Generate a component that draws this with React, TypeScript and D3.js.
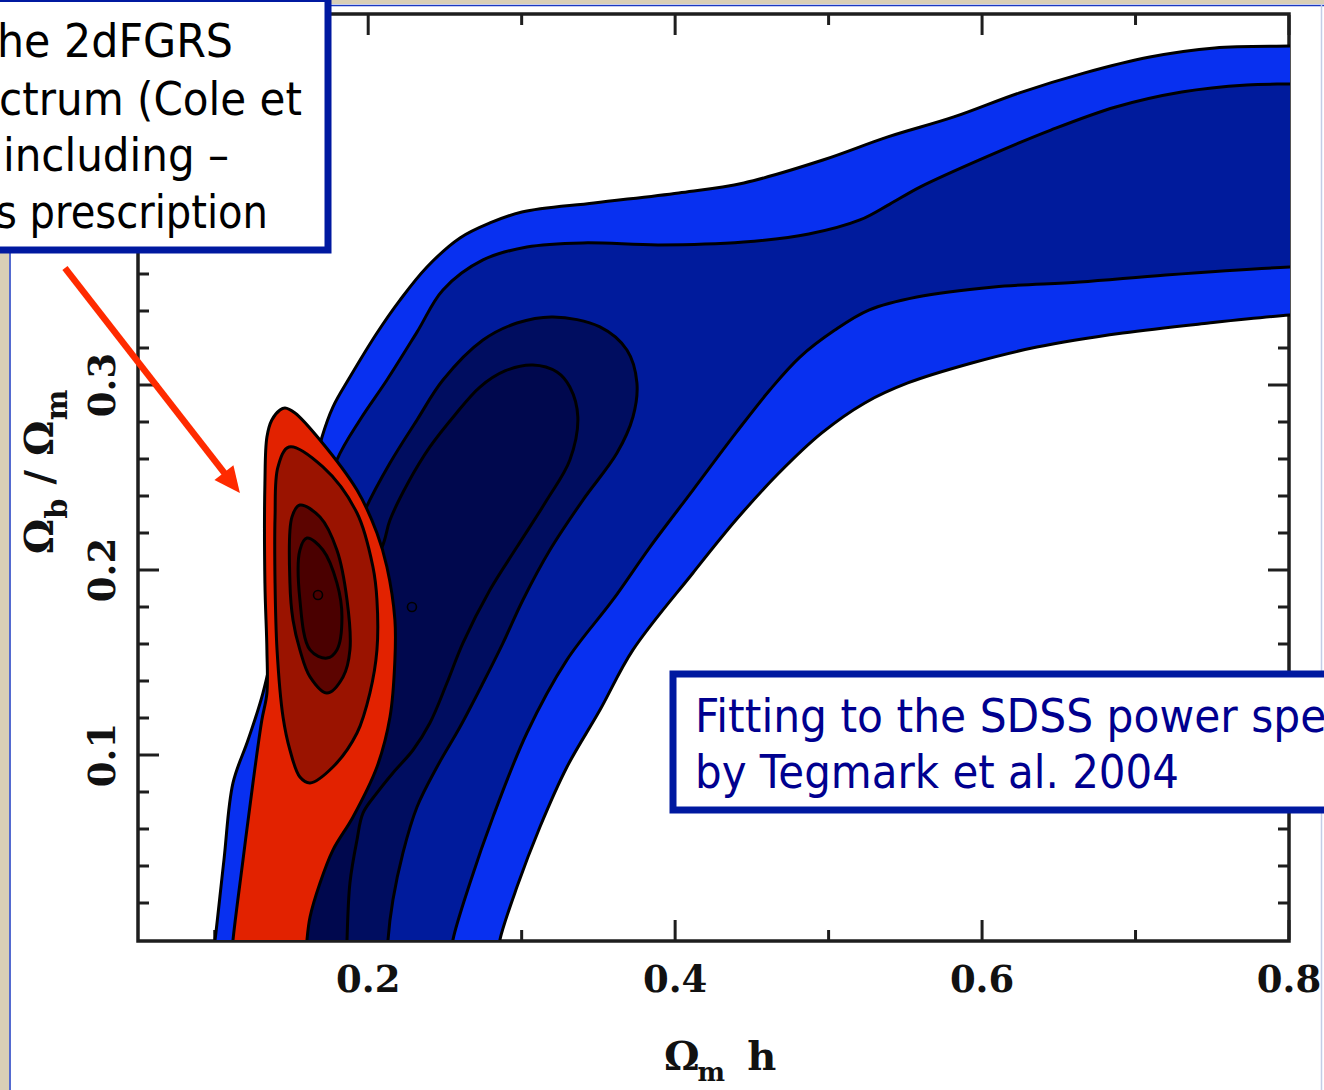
import React from "react";
import * as d3 from "d3";

type P = [number, number];

const W = 1324;
const H = 1090;

// Axes
const xDomain: [number, number] = [0.05, 0.8];
const yDomain: [number, number] = [0, 0.5];
const xMajorTicks = [0.2, 0.4, 0.6, 0.8];
const xMinorTicks = [0.1, 0.3, 0.5, 0.7];
const xTickLabels = ["0.2", "0.4", "0.6", "0.8"];
const yMajorTicks = [0.1, 0.2, 0.3, 0.4];
const yMinorTicks = [0.02, 0.04, 0.06, 0.08, 0.12, 0.14, 0.16, 0.18, 0.22, 0.24, 0.26, 0.28, 0.32, 0.34, 0.36, 0.38, 0.42, 0.44, 0.46, 0.48];
const yTickLabels = ["0.1", "0.2", "0.3", "0.4"];

// SDSS (Tegmark et al. 2004) likelihood contours, outermost first
const sdss1Upper: P[] = [
  [0.0985, -0.01], [0.1002, 0.0], [0.106, 0.0432], [0.1119, 0.0849], [0.1217, 0.1081], [0.1314, 0.1335],
  [0.1503, 0.2038], [0.1699, 0.2719], [0.177, 0.2881], [0.1881, 0.3043], [0.2057, 0.3281], [0.2207, 0.3459],
  [0.2383, 0.3638], [0.2598, 0.3795], [0.2793, 0.3876], [0.3002, 0.3935], [0.3471, 0.3984],
  [0.4024, 0.4038], [0.4448, 0.4092], [0.4963, 0.4216], [0.5386, 0.4341], [0.5816, 0.4449], [0.6239, 0.4578],
  [0.6663, 0.4686], [0.7093, 0.4773], [0.7516, 0.4822], [0.8005, 0.4832], [0.83, 0.4835],
];
const sdss1Lower: P[] = [
  [0.83, 0.339], [0.8005, 0.3378], [0.7477, 0.3335], [0.6917, 0.3281], [0.6357, 0.3205], [0.5933, 0.3119],
  [0.5516, 0.3011], [0.5236, 0.2903], [0.4956, 0.2741], [0.4676, 0.2524], [0.4396, 0.227], [0.4116, 0.1984],
  [0.3725, 0.1568], [0.351, 0.1243], [0.3295, 0.0935], [0.3119, 0.0611], [0.2969, 0.0286],
  [0.2858, 0.0], [0.2845, -0.01],
];
const sdss2Upper: P[] = [
  [0.1425, -0.01], [0.1438, 0.0486], [0.1477, 0.1027], [0.1542, 0.1568], [0.1634, 0.2162], [0.1796, 0.2595],
  [0.1946, 0.2811], [0.2122, 0.3027], [0.2318, 0.3286], [0.2487, 0.3514], [0.2748, 0.3676], [0.3034, 0.3746],
  [0.3399, 0.3768], [0.3894, 0.3757], [0.4448, 0.3773], [0.4871, 0.3816], [0.5204, 0.3892], [0.5399, 0.3978],
  [0.5595, 0.407], [0.6024, 0.4232], [0.6448, 0.4378], [0.6871, 0.4503], [0.7301, 0.4584], [0.7725, 0.4622],
  [0.8005, 0.4627], [0.83, 0.463],
];
const sdss2Lower: P[] = [
  [0.83, 0.3645], [0.8005, 0.3638], [0.7197, 0.3595], [0.6637, 0.3557], [0.6077, 0.353], [0.5575, 0.3476],
  [0.5262, 0.3405], [0.5041, 0.3297], [0.4813, 0.3151], [0.4617, 0.2973], [0.4396, 0.2741], [0.4116, 0.2432],
  [0.3836, 0.2124], [0.3594, 0.1838], [0.3295, 0.1514], [0.3034, 0.1119], [0.2813, 0.0665], [0.2663, 0.0308],
  [0.2552, 0.0], [0.254, -0.01],
];
const sdss3: P[] = [
  [0.1555, -0.01], [0.1568, 0.0486], [0.1621, 0.1081], [0.1718, 0.1622], [0.1849, 0.2054], [0.1979, 0.2324],
  [0.2142, 0.2578], [0.2318, 0.2811], [0.2487, 0.3027], [0.2748, 0.3243], [0.2969, 0.3335], [0.3204, 0.3368],
  [0.351, 0.3314], [0.3686, 0.3189], [0.3751, 0.3011], [0.3725, 0.2827], [0.3621, 0.2632], [0.3399, 0.2378],
  [0.3184, 0.2108], [0.3008, 0.1838], [0.2878, 0.1605], [0.2748, 0.1389], [0.2598, 0.1151], [0.2448, 0.0935],
  [0.2318, 0.0719], [0.2226, 0.047], [0.2161, 0.0216], [0.2129, 0.0], [0.2126, -0.01],
];
const sdss4: P[] = [
  [0.1588, -0.01], [0.1608, 0.0486], [0.1673, 0.1081], [0.1783, 0.1622], [0.1914, 0.1892], [0.209, 0.2124],
  [0.2142, 0.227], [0.2259, 0.247], [0.2402, 0.2665], [0.2565, 0.2838], [0.2728, 0.2989], [0.2891, 0.3076],
  [0.3073, 0.3108], [0.323, 0.307], [0.3314, 0.2989], [0.3366, 0.2827], [0.3314, 0.2595], [0.3164, 0.2378],
  [0.2969, 0.2124], [0.2793, 0.1892], [0.2617, 0.1605], [0.2513, 0.1389], [0.2402, 0.1173], [0.2292, 0.1027],
  [0.2161, 0.0903], [0.2057, 0.0795], [0.1966, 0.0686], [0.1927, 0.0541], [0.1881, 0.0308], [0.1862, 0.0],
  [0.186, -0.01],
];
const sdssBest: P = [0.2285, 0.18];

// 2dFGRS (Cole et al. 2005) likelihood contours, outermost first
const tdf1: P[] = [
  [0.111, -0.01], [0.1119, 0.0], [0.1184, 0.0432], [0.1249, 0.0849], [0.1307, 0.1189], [0.134, 0.1335],
  [0.134, 0.1568], [0.1327, 0.193], [0.1327, 0.247], [0.134, 0.2719], [0.1372, 0.2811], [0.1425, 0.2865],
  [0.1458, 0.2876], [0.1523, 0.2849], [0.1686, 0.2703], [0.1927, 0.2432], [0.2057, 0.22], [0.2122, 0.2016],
  [0.2174, 0.173], [0.2174, 0.1514], [0.2142, 0.1205], [0.2057, 0.0935], [0.1901, 0.0665], [0.177, 0.0486],
  [0.1686, 0.0308], [0.1621, 0.0124], [0.1601, 0.0], [0.1595, -0.01],
];
const tdf2: P[] = [
  [0.1484, 0.2665], [0.1705, 0.2557], [0.1927, 0.2308], [0.2031, 0.2016], [0.2057, 0.1838], [0.2057, 0.1568],
  [0.2011, 0.1335], [0.1927, 0.1119], [0.177, 0.0935], [0.1621, 0.0849], [0.1555, 0.0881], [0.149, 0.1027],
  [0.1445, 0.1205], [0.1406, 0.1568], [0.1393, 0.193], [0.1393, 0.2286], [0.1412, 0.2557],
];
const tdf3: P[] = [
  [0.1555, 0.2351], [0.1686, 0.2286], [0.1796, 0.2108], [0.1862, 0.1838], [0.1881, 0.1568], [0.1836, 0.1422],
  [0.1731, 0.1335], [0.1621, 0.1422], [0.1555, 0.1568], [0.151, 0.173], [0.149, 0.193], [0.1503, 0.2286],
];
const tdf4: P[] = [
  [0.1601, 0.2173], [0.1705, 0.2108], [0.1796, 0.193], [0.1829, 0.1746], [0.1796, 0.1568], [0.1731, 0.1524],
  [0.1621, 0.1568], [0.1555, 0.1838], [0.1555, 0.2108],
];
const tdfBest: P = [0.1673, 0.1865];

const sdssColors = ["#0830f0", "#001b9c", "#000d60", "#00084e"];
const tdfColors = ["#e22200", "#9a1300", "#5c0400", "#4a0000"];

// Annotations (data coordinates)
const arrowFrom: P = [0.0024, 0.3632];
const arrowTo: P = [0.1164, 0.2416];
const tdfNote = ["he 2dFGRS", "ctrum (Cole et", "including –", "s prescription"];
const sdssNote = ["Fitting to the SDSS power spectrum", "by Tegmark et al. 2004"];

export default function App() {
  const x = d3.scaleLinear().domain(xDomain).range([138, 1289]);
  const y = d3.scaleLinear().domain(yDomain).range([940, 15]);
  const open = d3.line<P>().x((d) => x(d[0])).y((d) => y(d[1])).curve(d3.curveCatmullRom.alpha(0.5));
  const closed = d3.line<P>().x((d) => x(d[0])).y((d) => y(d[1])).curve(d3.curveCatmullRomClosed.alpha(0.5));
  const band = (a: P[], b: P[]) => (open(a) as string) + (open(b) as string).replace(/^M/, "L") + "Z";
  const arc = (a: P[]) => (open(a) as string) + "Z";

  const sdssPaths = [band(sdss1Upper, sdss1Lower), band(sdss2Upper, sdss2Lower), arc(sdss3), arc(sdss4)];
  const tdfPaths = [arc(tdf1), closed(tdf2) as string, closed(tdf3) as string, closed(tdf4) as string];

  const x0 = x(xDomain[0]);
  const x1 = x(xDomain[1]);
  const yB = y(yDomain[0]);
  const yT = y(yDomain[1]);
  const tickColor = "#1e1e1e";
  const serif = "'DejaVu Serif', 'Liberation Serif', serif";
  const sans = "'DejaVu Sans', Verdana, sans-serif";

  // arrow geometry
  const ax0 = x(arrowFrom[0]);
  const ay0 = y(arrowFrom[1]);
  const ax1 = x(arrowTo[0]);
  const ay1 = y(arrowTo[1]);
  const len = Math.hypot(ax1 - ax0, ay1 - ay0);
  const ux = (ax1 - ax0) / len;
  const uy = (ay1 - ay0) / len;
  const headL = 26;
  const headW = 12;
  const bx = ax1 - ux * headL;
  const by = ay1 - uy * headL;
  const head = `M${ax1},${ay1}L${bx - uy * headW},${by + ux * headW}L${bx + uy * headW},${by - ux * headW}Z`;

  return (
    <svg
      width={W}
      height={H}
      viewBox={`0 0 ${W} ${H}`}
      style={{ position: "absolute", left: 0, top: 0, background: "#fff" }}
    >
      <defs>
        <clipPath id="plotClip">
          <rect x={x0} y={yT} width={x1 - x0 + 1} height={yB - yT} />
        </clipPath>
      </defs>
      <rect x={0} y={0} width={W} height={H} fill="#ffffff" />
      {/* slide border */}
      <rect x={0} y={0} width={9} height={H} fill="#d9cfb6" />
      <rect x={0} y={0} width={W} height={4} fill="#d9cfb6" />
      <line x1={10} y1={5} x2={10} y2={H} stroke="#1a38c0" strokeWidth={1.5} />
      <line x1={10} y1={5.5} x2={W} y2={5.5} stroke="#1a38c0" strokeWidth={1.5} />
      <line x1={1321.5} y1={5} x2={1321.5} y2={H} stroke="#c3cce6" strokeWidth={1.5} />

      {/* ticks */}
      <g stroke={tickColor} strokeWidth={3}>
        {xMajorTicks.map((v) => (
          <g key={"xM" + v}>
            <line x1={x(v)} x2={x(v)} y1={yB} y2={yB - 20} />
            <line x1={x(v)} x2={x(v)} y1={yT} y2={yT + 20} />
          </g>
        ))}
        {xMinorTicks.map((v) => (
          <g key={"xm" + v}>
            <line x1={x(v)} x2={x(v)} y1={yB} y2={yB - 10} />
            <line x1={x(v)} x2={x(v)} y1={yT} y2={yT + 10} />
          </g>
        ))}
        {yMajorTicks.map((v) => (
          <g key={"yM" + v}>
            <line x1={x0} x2={x0 + 21} y1={y(v)} y2={y(v)} />
            <line x1={x1} x2={x1 - 21} y1={y(v)} y2={y(v)} />
          </g>
        ))}
        {yMinorTicks.map((v) => (
          <g key={"ym" + v}>
            <line x1={x0} x2={x0 + 11} y1={y(v)} y2={y(v)} />
            <line x1={x1} x2={x1 - 11} y1={y(v)} y2={y(v)} />
          </g>
        ))}
      </g>
      <rect x={x0} y={yT - 1} width={x1 - x0} height={yB - yT + 2} fill="none" stroke={tickColor} strokeWidth={3.5} />

      {/* contours */}
      <g clipPath="url(#plotClip)" stroke="#000" strokeWidth={3} strokeLinejoin="round">
        {sdssPaths.map((d, i) => (
          <path key={"s" + i} d={d} fill={sdssColors[i]} />
        ))}
        <circle cx={x(sdssBest[0])} cy={y(sdssBest[1])} r={4.5} fill="none" strokeWidth={1.6} />
        {tdfPaths.map((d, i) => (
          <path key={"t" + i} d={d} fill={tdfColors[i]} />
        ))}
        <circle cx={x(tdfBest[0])} cy={y(tdfBest[1])} r={4.5} fill="none" strokeWidth={1.6} />
      </g>

      {/* tick labels */}
      <g fontFamily={serif} fontWeight="bold" fontSize={37} fill="#111">
        {xMajorTicks.map((v, i) => (
          <text key={"xl" + v} x={x(v)} y={992} textAnchor="middle">
            {xTickLabels[i]}
          </text>
        ))}
        {yMajorTicks.map((v, i) => (
          <text key={"yl" + v} transform={`translate(115,${y(v)}) rotate(-90)`} textAnchor="middle">
            {yTickLabels[i]}
          </text>
        ))}
      </g>

      {/* axis titles */}
      <text x={664} y={1070} fontFamily={serif} fontWeight="bold" fontSize={40} fill="#111">
        Ω<tspan dy={11} dx={-2} fontSize={26}>m</tspan>
        <tspan dy={-11} dx={22}>h</tspan>
      </text>
      <text
        transform="translate(53,472) rotate(-90)"
        textAnchor="middle"
        fontFamily={serif}
        fontWeight="bold"
        fontSize={40}
        fill="#111"
      >
        Ω<tspan dy={14} fontSize={29}>b</tspan>
        <tspan dy={-14}> / Ω</tspan>
        <tspan dy={14} fontSize={29}>m</tspan>
      </text>

      {/* 2dFGRS note box */}
      <rect x={-10} y={-1.5} width={338} height={251.5} fill="#fff" stroke="#0019a0" strokeWidth={7} />
      <g fontFamily={sans} fontSize={47} fill="#000">
        <text x={-3} y={57} textLength={236} lengthAdjust="spacingAndGlyphs">{tdfNote[0]}</text>
        <text x={-1} y={115} textLength={303} lengthAdjust="spacingAndGlyphs">{tdfNote[1]}</text>
        <text x={3} y={171} textLength={226} lengthAdjust="spacingAndGlyphs">{tdfNote[2]}</text>
        <text x={-4} y={228} textLength={272} lengthAdjust="spacingAndGlyphs">{tdfNote[3]}</text>
      </g>

      {/* arrow */}
      <line x1={ax0} y1={ay0} x2={bx + ux * 2} y2={by + uy * 2} stroke="#ff2a00" strokeWidth={6.5} />
      <path d={head} fill="#ff2a00" />

      {/* SDSS note box */}
      <rect x={673} y={674} width={720} height={136} fill="#fff" stroke="#0019a0" strokeWidth={7} />
      <g fontFamily={sans} fontSize={47} fill="#00008f">
        <text x={695} y={732} textLength={757} lengthAdjust="spacingAndGlyphs">{sdssNote[0]}</text>
        <text x={695} y={788} textLength={484} lengthAdjust="spacingAndGlyphs">{sdssNote[1]}</text>
      </g>
    </svg>
  );
}
